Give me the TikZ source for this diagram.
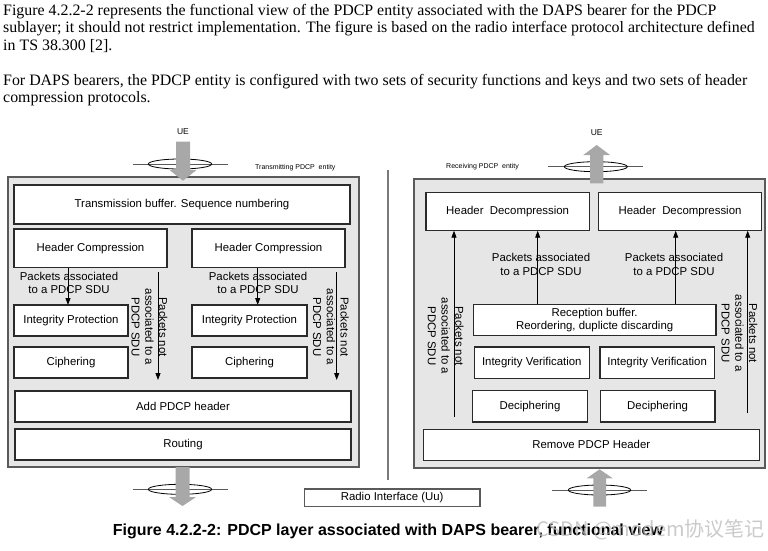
\documentclass[tikz,border=0pt]{standalone}
\usepackage{fontspec}
\setmainfont{Liberation Serif}
\setsansfont{Liberation Sans}
\newfontfamily\cjk{Noto Sans CJK SC}
\usetikzlibrary{arrows.meta,shapes.geometric}
\definecolor{entfill}{HTML}{E6E6E6}
\definecolor{entborder}{HTML}{5A5A5A}
\definecolor{blkborder}{HTML}{2A2A2A}
\definecolor{bigarrow}{HTML}{A8A8A8}
\definecolor{sepline}{HTML}{7A7A7A}
\tikzset{
  entity/.style={draw=entborder, fill=entfill, line width=1.5pt, inner sep=0pt, outer sep=0pt},
  blk/.style={draw=blkborder, fill=white, line width=1.2pt, inner sep=0pt, outer sep=0pt,
    font=\sffamily\fontsize{11.4}{13.5}\selectfont, align=center},
  lbl/.style={font=\sffamily\fontsize{11.4}{13.8}\selectfont, align=center, inner sep=0pt},
  vlbl/.style={lbl, rotate=-90},
  tiny/.style={font=\sffamily\fontsize{7}{8}\selectfont, inner sep=0pt},
  uelbl/.style={font=\sffamily\fontsize{8.5}{10}\selectfont, inner sep=0pt},
  conn/.style={draw=black, line width=0.9pt, -{Triangle[length=7pt,width=5pt]}},
  para/.style={font=\rmfamily\fontsize{15.9}{18}\selectfont, inner sep=0pt, anchor=base west},
  bigarr/.style={fill=bigarrow},
  ring/.style={draw=black, line width=0.8pt, ellipse, minimum height=10pt, inner sep=0pt},
}
\begin{document}
\begin{tikzpicture}[x=1pt,y=-1pt]
\useasboundingbox[fill=white] (0,0) rectangle (768,550);

% ---------- top paragraph ----------
\node[para] (p1) at (3,15) {Figure 4.2.2-2 represents the functional view of the PDCP entity associated with the DAPS bearer for the PDCP};
\node[para] (p2) at (3,32.5) {sublayer; it should not restrict implementation. The figure is based on the radio interface protocol architecture defined};
\node[para] (p3) at (3,50) {in TS 38.300 [2].};
\node[para] (p4) at (3,85) {For DAPS bearers, the PDCP entity is configured with two sets of security functions and keys and two sets of header};
\node[para] (p5) at (3,102.5) {compression protocols.};

% ---------- separator ----------
\coordinate (sepT) at (388,170);
\coordinate (sepB) at (388,480);
\draw[sepline, line width=1.8pt] (sepT) -- (sepB);

% ---------- transmitting entity ----------
\node[entity, minimum width=351pt, minimum height=290pt] (txent) at (183.5,322) {};
\node[tiny, anchor=west] (txlbl) at (255,167.3) {Transmitting PDCP\ \ entity};

\node[blk, minimum width=336pt, minimum height=39pt] (tb) at (182,204.5) {Transmission buffer. Sequence numbering};
\node[blk, minimum width=153pt, minimum height=38.5pt] (hc1) at (90.5,248.25) {Header Compression};
\node[blk, minimum width=153pt, minimum height=38.5pt] (hc2) at (268.5,248.25) {Header Compression};
\node[blk, minimum width=114pt, minimum height=31pt] (ip1) at (71,320.5) {Integrity Protection};
\node[blk, minimum width=115pt, minimum height=31pt] (ip2) at (249.5,320.5) {Integrity Protection};
\node[blk, minimum width=114pt, minimum height=31pt] (ci1) at (71,362.5) {Ciphering};
\node[blk, minimum width=115pt, minimum height=31pt] (ci2) at (249.5,362.5) {Ciphering};
\node[blk, minimum width=336pt, minimum height=31pt] (add) at (183,406.5) {Add PDCP header};
\node[blk, minimum width=336pt, minimum height=31pt] (rout) at (183,444.5) {Routing};

\node[lbl] (pa1) at (69,283) {Packets associated\\to a PDCP SDU};
\node[lbl] (pa2) at (258,283) {Packets associated\\to a PDCP SDU};
\coordinate (a1) at (68,0);
\coordinate (a2) at (257.7,0);
\draw[conn] (hc1.south -| a1) -- (ip1.north -| a1);
\draw[conn] (hc2.south -| a2) -- (ip2.north -| a2);

\node[vlbl] (na1) at (149.5,327) {Packets not\\associated to a\\PDCP SDU};
\node[vlbl] (na2) at (331,327) {Packets not\\associated to a\\PDCP SDU};
\coordinate (n1s) at (158,272);
\coordinate (n1e) at (158,380);
\coordinate (n2s) at (336.7,272);
\coordinate (n2e) at (336.7,380);
\draw[conn] (n1s) -- (n1e);
\draw[conn] (n2s) -- (n2e);

% UE top left (down)
\node[uelbl] (ue1) at (183,131.5) {UE};
\coordinate (l1a) at (132.7,164);
\coordinate (l1b) at (227.7,164);
\draw[entborder, line width=1pt] (l1a) -- (l1b);
\node[ring, minimum width=63.4pt] (el1) at (180,164) {};
\fill[bigarr] (176,141.7) -- (190,141.7) -- (190,170) -- (196.5,170) -- (183,180.7) -- (169.5,170) -- (176,170) -- cycle;

% bottom left (down)
\coordinate (l2a) at (132.7,489.3);
\coordinate (l2b) at (227.7,489.3);
\draw[entborder, line width=1pt] (l2a) -- (l2b);
\node[ring, minimum width=63.4pt] (el2) at (180,489.3) {};
\fill[bigarr] (175.5,467) -- (189.5,467) -- (189.5,497) -- (196,497) -- (182.5,506) -- (169,497) -- (175.5,497) -- cycle;

% ---------- receiving entity ----------
\node[entity, minimum width=351pt, minimum height=289pt] (rxent) at (589.5,323.5) {};
\node[tiny, anchor=west] (rxlbl) at (446,166.7) {Receiving PDCP\ \ entity};

\node[blk, minimum width=163.3pt, minimum height=38pt] (hd1) at (507.65,211.7) {Header\ \ Decompression};
\node[blk, minimum width=163.4pt, minimum height=38pt] (hd2) at (680,211.7) {Header\ \ Decompression};
\node[blk, minimum width=242.7pt, minimum height=31.4pt] (rb) at (594.65,320) {Reception buffer.\\Reordering, duplicte discarding};
\node[blk, minimum width=115pt, minimum height=31.7pt] (iv1) at (531.8,362.85) {Integrity Verification};
\node[blk, minimum width=114.3pt, minimum height=31.7pt] (iv2) at (657.15,362.85) {Integrity Verification};
\node[blk, minimum width=114.6pt, minimum height=31.3pt] (dc1) at (530,406.35) {Deciphering};
\node[blk, minimum width=114.7pt, minimum height=31.3pt] (dc2) at (657.65,406.35) {Deciphering};
\node[blk, minimum width=336pt, minimum height=31pt] (rem) at (591.3,444.8) {Remove PDCP Header};

\node[lbl] (pr1) at (541,264.7) {Packets associated\\to a PDCP SDU};
\node[lbl] (pr2) at (674,264.7) {Packets associated\\to a PDCP SDU};
\coordinate (b1) at (537.7,0);
\coordinate (b2) at (675.7,0);
\draw[conn] (rb.north -| b1) -- (hd1.south -| b1);
\draw[conn] (rb.north -| b2) -- (hd2.south -| b2);

\node[vlbl] (nr1) at (445.7,336) {Packets not\\associated to a\\PDCP SDU};
\node[vlbl] (nr2) at (739.5,333.3) {Packets not\\associated to a\\PDCP SDU};
\coordinate (r1s) at (454,417);
\coordinate (r2s) at (747.7,413);
\draw[conn] (r1s) -- (hd1.south -| r1s);
\draw[conn] (r2s) -- (hd2.south -| r2s);

% UE top right (up)
\node[uelbl] (ue2) at (596.7,132.7) {UE};
\coordinate (l3a) at (548.3,166.7);
\coordinate (l3b) at (643.3,166.7);
\draw[entborder, line width=1pt] (l3a) -- (l3b);
\node[ring, minimum width=63pt] (el3) at (595.8,166.7) {};
\fill[bigarr] (590,183.3) -- (603.3,183.3) -- (603.3,155) -- (610,155) -- (596.7,145) -- (583.3,155) -- (590,155) -- cycle;

% bottom right (up)
\coordinate (l4a) at (552.3,490);
\coordinate (l4b) at (646.7,490);
\draw[entborder, line width=1pt] (l4a) -- (l4b);
\node[ring, minimum width=62.4pt] (el4) at (599.5,490) {};
\fill[bigarr] (593.3,506.7) -- (606,506.7) -- (606,478.3) -- (612.7,478.3) -- (599.6,469.3) -- (586.7,478.3) -- (593.3,478.3) -- cycle;

% ---------- radio interface ----------
\node[draw=entborder, line width=1.2pt, fill=white, minimum width=175.7pt, minimum height=17.7pt, inner sep=0pt,
  font=\sffamily\fontsize{11.4}{13.5}\selectfont] (uu) at (392.15,497.85) {Radio Interface (Uu)};

% ---------- caption ----------
\node[font=\sffamily\bfseries\fontsize{16}{18}\selectfont, inner sep=0pt] (cap) at (388,531) {Figure 4.2.2-2: PDCP layer associated with DAPS bearer, functional view};
\node[font=\cjk\fontsize{20}{22}\selectfont, text=gray!55, opacity=0.75, inner sep=0pt, anchor=west] (wm) at (536,530) {CSDN @modem协议笔记};
\end{tikzpicture}
\end{document}
